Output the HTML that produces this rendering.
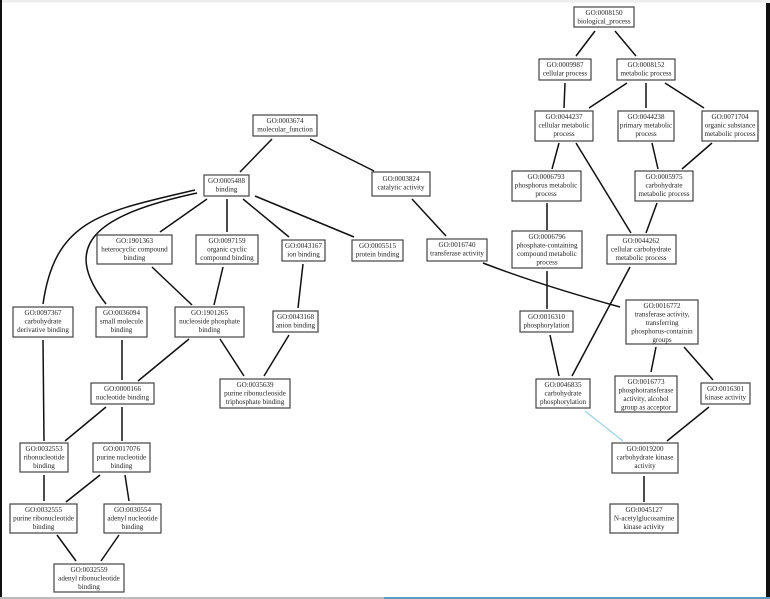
<!DOCTYPE html>
<html><head><meta charset="utf-8"><style>
html,body{margin:0;padding:0;background:#fff;}
svg{display:block;}
text{font-family:"Liberation Serif",serif;font-size:7.1px;fill:#222;text-anchor:middle;}
rect.n{fill:#fff;stroke:#444;stroke-width:1.2;}
line,path{stroke:#111;stroke-width:1.5;fill:none;}
</style></head><body>
<svg width="770" height="599" viewBox="0 0 770 599" xmlns="http://www.w3.org/2000/svg">
<rect x="0" y="0" width="770" height="599" fill="#fff"/>
<rect x="0" y="0" width="770" height="2.5" fill="#eee"/>
<rect x="0" y="0" width="2" height="599" fill="#111"/>
<rect x="766" y="3" width="4" height="594" fill="#111"/>
<rect x="0" y="597" width="384" height="2" fill="#bbb"/>
<rect x="384" y="597" width="386" height="2" fill="#5a9ac8"/>

<!-- edges -->
<line x1="595" y1="31" x2="576" y2="56"/>
<line x1="615" y1="31" x2="636" y2="56"/>
<line x1="565" y1="83" x2="564" y2="108"/>
<line x1="627" y1="83" x2="589" y2="108"/>
<line x1="646" y1="83" x2="646" y2="108"/>
<line x1="665" y1="83" x2="704" y2="108"/>
<line x1="559" y1="143" x2="552" y2="169"/>
<line x1="576" y1="143" x2="631" y2="233"/>
<line x1="652" y1="143" x2="658" y2="169"/>
<line x1="712" y1="143" x2="682" y2="169"/>
<line x1="547" y1="203" x2="547" y2="230"/>
<line x1="657" y1="203" x2="646" y2="233"/>
<line x1="547" y1="271" x2="547" y2="309"/>
<line x1="630" y1="267" x2="572" y2="376"/>
<line x1="550" y1="335" x2="559" y2="376"/>
<path d="M483,263 Q540,285 620,307"/>
<line x1="656" y1="347" x2="651" y2="372"/>
<line x1="684" y1="347" x2="713" y2="380"/>
<line x1="585" y1="411" x2="623" y2="441" style="stroke:#9fd3e6;stroke-width:1.3"/>
<line x1="709" y1="407" x2="667" y2="441"/>
<line x1="644" y1="476" x2="644" y2="502"/>
<line x1="272" y1="139" x2="240" y2="172"/>
<line x1="310" y1="139" x2="374" y2="171"/>
<line x1="412" y1="199" x2="446" y2="236"/>
<line x1="207" y1="199" x2="160" y2="232"/>
<line x1="227" y1="199" x2="227" y2="232"/>
<line x1="243" y1="199" x2="289" y2="237"/>
<line x1="255" y1="196" x2="354" y2="237"/>
<path d="M195,190 C100,212 55,220 43,304"/>
<path d="M197,193 C95,215 60,245 106,304"/>
<line x1="152" y1="267" x2="192" y2="305"/>
<line x1="223" y1="267" x2="214" y2="305"/>
<line x1="303" y1="264" x2="298" y2="308"/>
<line x1="189" y1="339" x2="138" y2="381"/>
<line x1="220" y1="339" x2="244" y2="376"/>
<line x1="289" y1="335" x2="264" y2="376"/>
<line x1="122" y1="340" x2="122" y2="380"/>
<line x1="43" y1="340" x2="44" y2="441"/>
<line x1="106" y1="407" x2="65" y2="441"/>
<line x1="122" y1="407" x2="122" y2="441"/>
<line x1="44" y1="475" x2="44" y2="501"/>
<line x1="100" y1="475" x2="66" y2="502"/>
<line x1="125" y1="475" x2="129" y2="501"/>
<line x1="57" y1="535" x2="76" y2="561"/>
<line x1="119" y1="535" x2="101" y2="561"/>

<!-- nodes -->
<rect class="n" x="574" y="7" width="60" height="20"/><text x="604" y="15">GO:0008150</text><text x="604" y="23.5">biological_process</text>
<rect class="n" x="539" y="59" width="52" height="21"/><text x="565" y="67">GO:0009987</text><text x="565" y="75.5">cellular process</text>
<rect class="n" x="617" y="59" width="58" height="21"/><text x="646" y="67">GO:0008152</text><text x="646" y="75.5">metabolic process</text>
<rect class="n" x="535" y="111" width="58" height="30"/><text x="564" y="119">GO:0044237</text><text x="564" y="127.5">cellular metabolic</text><text x="564" y="136">process</text>
<rect class="n" x="618" y="111" width="56" height="30"/><text x="646" y="119">GO:0044238</text><text x="646" y="127.5">primary metabolic</text><text x="646" y="136">process</text>
<rect class="n" x="702" y="111" width="56" height="30"/><text x="730" y="119">GO:0071704</text><text x="730" y="127.5">organic substance</text><text x="730" y="136">metabolic process</text>
<rect class="n" x="512" y="171" width="69" height="30"/><text x="546" y="179">GO:0006793</text><text x="546" y="187.5">phosphorus metabolic</text><text x="546" y="196">process</text>
<rect class="n" x="635" y="171" width="58" height="30"/><text x="664" y="179">GO:0005975</text><text x="664" y="187.5">carbohydrate</text><text x="664" y="196">metabolic process</text>
<rect class="n" x="512" y="231" width="70" height="37"/><text x="547" y="239">GO:0006796</text><text x="547" y="247.5">phosphate-containing</text><text x="547" y="256">compound metabolic</text><text x="547" y="264.5">process</text>
<rect class="n" x="607" y="235" width="69" height="29"/><text x="641" y="243">GO:0044262</text><text x="641" y="251.5">cellular carbohydrate</text><text x="641" y="260">metabolic process</text>
<rect class="n" x="427" y="239" width="60" height="22"/><text x="457" y="247">GO:0016740</text><text x="457" y="255.5">transferase activity</text>
<rect class="n" x="372" y="172" width="58" height="24"/><text x="401" y="181">GO:0003824</text><text x="401" y="189.5">catalytic activity</text>
<rect class="n" x="253" y="115" width="64" height="21"/><text x="285" y="123">GO:0003674</text><text x="285" y="131.5">molecular_function</text>
<rect class="n" x="204" y="175" width="45" height="21"/><text x="226.5" y="183">GO:0005488</text><text x="226.5" y="191.5">binding</text>
<rect class="n" x="97" y="235" width="75" height="29"/><text x="134.5" y="243">GO:1901363</text><text x="134.5" y="251.5">heterocyclic compound</text><text x="134.5" y="260">binding</text>
<rect class="n" x="196" y="235" width="62" height="29"/><text x="227" y="243">GO:0097159</text><text x="227" y="251.5">organic cyclic</text><text x="227" y="260">compound binding</text>
<rect class="n" x="282" y="240" width="43" height="21"/><text x="303.5" y="248">GO:0043167</text><text x="303.5" y="256.5">ion binding</text>
<rect class="n" x="352" y="240" width="51" height="21"/><text x="377.5" y="248">GO:0005515</text><text x="377.5" y="256.5">protein binding</text>
<rect class="n" x="13" y="307" width="60" height="30"/><text x="43" y="315">GO:0097367</text><text x="43" y="323.5">carbohydrate</text><text x="43" y="332">derivative binding</text>
<rect class="n" x="96" y="307" width="51" height="30"/><text x="121.5" y="315">GO:0036094</text><text x="121.5" y="323.5">small molecule</text><text x="121.5" y="332">binding</text>
<rect class="n" x="175" y="307" width="69" height="30"/><text x="209.5" y="315">GO:1901265</text><text x="209.5" y="323.5">nucleoside phosphate</text><text x="209.5" y="332">binding</text>
<rect class="n" x="273" y="311" width="45" height="21"/><text x="295.5" y="319">GO:0043168</text><text x="295.5" y="327.5">anion binding</text>
<rect class="n" x="91" y="383" width="63" height="21"/><text x="122.5" y="391">GO:0000166</text><text x="122.5" y="399.5">nucleotide binding</text>
<rect class="n" x="220" y="379" width="70" height="29"/><text x="255" y="387">GO:0035639</text><text x="255" y="395.5">purine ribonucleoside</text><text x="255" y="404">triphosphate binding</text>
<rect class="n" x="20" y="443" width="48" height="29"/><text x="44" y="451">GO:0032553</text><text x="44" y="459.5">ribonucleotide</text><text x="44" y="468">binding</text>
<rect class="n" x="93" y="443" width="57" height="29"/><text x="121.5" y="451">GO:0017076</text><text x="121.5" y="459.5">purine nucleotide</text><text x="121.5" y="468">binding</text>
<rect class="n" x="10" y="504" width="67" height="29"/><text x="43.5" y="512">GO:0032555</text><text x="43.5" y="520.5">purine ribonucleotide</text><text x="43.5" y="529">binding</text>
<rect class="n" x="104" y="504" width="57" height="29"/><text x="132.5" y="512">GO:0030554</text><text x="132.5" y="520.5">adenyl nucleotide</text><text x="132.5" y="529">binding</text>
<rect class="n" x="54" y="564" width="70" height="28"/><text x="89" y="572">GO:0032559</text><text x="89" y="580.5">adenyl ribonucleotide</text><text x="89" y="589">binding</text>
<rect class="n" x="536" y="379" width="54" height="29"/><text x="563" y="387">GO:0046835</text><text x="563" y="395.5">carbohydrate</text><text x="563" y="404">phosphorylation</text>
<rect class="n" x="615" y="376" width="62" height="36"/><text x="646" y="384">GO:0016773</text><text x="646" y="392.5">phosphotransferase</text><text x="646" y="401">activity, alcohol</text><text x="646" y="409.5">group as acceptor</text>
<rect class="n" x="701" y="383" width="49" height="21"/><text x="725.5" y="391">GO:0016301</text><text x="725.5" y="399.5">kinase activity</text>
<rect class="n" x="626" y="300" width="72" height="44"/><text x="662" y="308">GO:0016772</text><text x="662" y="316.5">transferase activity,</text><text x="662" y="325">transferring</text><text x="662" y="333.5">phosphorus-containin</text><text x="662" y="342">groups</text>
<rect class="n" x="520" y="311" width="53" height="21"/><text x="546.5" y="319">GO:0016310</text><text x="546.5" y="327.5">phosphorylation</text>
<rect class="n" x="612" y="443" width="66" height="30"/><text x="645" y="451">GO:0019200</text><text x="645" y="459.5">carbohydrate kinase</text><text x="645" y="468">activity</text>
<rect class="n" x="610" y="504" width="68" height="29"/><text x="644" y="512">GO:0045127</text><text x="644" y="520.5">N-acetylglucosamine</text><text x="644" y="529">kinase activity</text>
</svg>
</body></html>
